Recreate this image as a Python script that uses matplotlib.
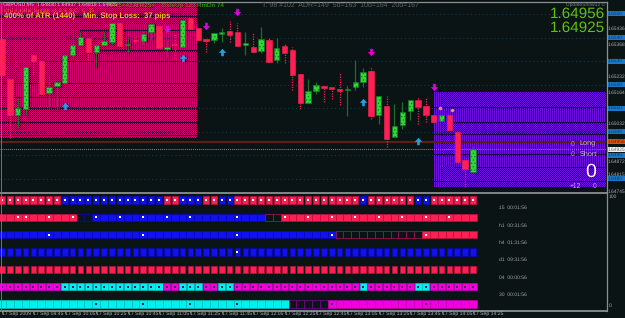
import numpy as np
import matplotlib
matplotlib.use('Agg')
import matplotlib.pyplot as plt
from matplotlib.path import Path

plt.rcParams['font.family'] = ['Liberation Sans', 'DejaVu Sans']
plt.rcParams['hatch.linewidth'] = 0.5
plt.rcParams['text.hinting'] = 'none'

W, H = 625, 318
BG = '#0a1414'

# GBPUSD M5, 17 Sep 2009, 09:25 - 14:25
opens = [1.65394, 1.65223, 1.65070, 1.65096, 1.65326, 1.65300, 1.65164, 1.65194, 1.65206, 1.65326,
         1.65368, 1.65398, 1.65338, 1.65368, 1.65381, 1.65462, 1.65368, 1.65389, 1.65385, 1.65423,
         1.65449, 1.65351, 1.65372, 1.65360, 1.65483, 1.65440, 1.65394, 1.65389, 1.65415, 1.65428,
         1.65423, 1.65368, 1.65360, 1.65343, 1.65389, 1.65304, 1.65364, 1.65347, 1.65245, 1.65121,
         1.65172, 1.65194, 1.65189, 1.65181, 1.65177, 1.65189, 1.65211, 1.65257, 1.65070, 1.65108,
         1.64977, 1.65028, 1.65087, 1.65134, 1.65108, 1.65070, 1.65045, 1.65070, 1.64998, 1.64879,
         1.64830]
closes = [1.65240, 1.65070, 1.65100, 1.65274, 1.65300, 1.65160, 1.65189, 1.65211, 1.65326, 1.65368,
          1.65402, 1.65338, 1.65368, 1.65385, 1.65462, 1.65364, 1.65372, 1.65385, 1.65415, 1.65457,
          1.65355, 1.65360, 1.65368, 1.65474, 1.65436, 1.65389, 1.65385, 1.65419, 1.65423, 1.65411,
          1.65364, 1.65377, 1.65338, 1.65394, 1.65296, 1.65355, 1.65334, 1.65240, 1.65121, 1.65172,
          1.65198, 1.65185, 1.65181, 1.65172, 1.65181, 1.65211, 1.65253, 1.65066, 1.65151, 1.64968,
          1.65023, 1.65083, 1.65134, 1.65104, 1.65070, 1.65040, 1.65070, 1.65006, 1.64870, 1.64840,
          1.64925]
highs = [1.65394, 1.65223, 1.65143, 1.65274, 1.65326, 1.65300, 1.65236, 1.65211, 1.65326, 1.65432,
         1.65423, 1.65398, 1.65368, 1.65423, 1.65462, 1.65462, 1.65402, 1.65411, 1.65428, 1.65457,
         1.65449, 1.65389, 1.65419, 1.65474, 1.65483, 1.65440, 1.65394, 1.65419, 1.65440, 1.65470,
         1.65462, 1.65423, 1.65423, 1.65445, 1.65398, 1.65398, 1.65377, 1.65360, 1.65245, 1.65223,
         1.65211, 1.65194, 1.65189, 1.65249, 1.65194, 1.65304, 1.65270, 1.65274, 1.65151, 1.65151,
         1.65117, 1.65126, 1.65134, 1.65147, 1.65147, 1.65070, 1.65070, 1.65070, 1.64998, 1.64879,
         1.64937]
lows = [1.65240, 1.64972, 1.65015, 1.65070, 1.65240, 1.65160, 1.65100, 1.65091, 1.65206, 1.65304,
        1.65368, 1.65304, 1.65274, 1.65368, 1.65368, 1.65364, 1.65338, 1.65377, 1.65368, 1.65389,
        1.65355, 1.65313, 1.65313, 1.65360, 1.65436, 1.65389, 1.65338, 1.65377, 1.65381, 1.65381,
        1.65364, 1.65326, 1.65338, 1.65334, 1.65296, 1.65291, 1.65291, 1.65177, 1.65096, 1.65121,
        1.65160, 1.65126, 1.65138, 1.65113, 1.65066, 1.65177, 1.65189, 1.65053, 1.65032, 1.64934,
        1.64977, 1.65011, 1.65049, 1.65032, 1.65040, 1.65040, 1.65045, 1.65006, 1.64870, 1.64764,
        1.64818]

sell_idx = [21, 26, 30, 47, 55]
sell_price = [1.65436, 1.65449, 1.65509, 1.65338, 1.65189]
buy_idx = [8, 23, 28, 46, 53]
buy_price = [1.65108, 1.65313, 1.65338, 1.65126, 1.64960]

ask, bid = 1.64956, 1.64925
grid_prices = [1.6490 + 0.001 * k for k in range(-1, 7)]
extra_prices = [1.65436, 1.65368, 1.65232, 1.65164, 1.65032, 1.64872, 1.64815, 1.64745]

# signal rows: r red, b blue, m magenta, c cyan, o empty red box, k empty dark box
row_states = [
    'r' * 8 + 'b' * 13 + 'r' * 2 + 'b' * 3 + 'r' * 2 + 'b' * 2 + 'r' * 16 + 'b' + 'r' * 6 + 'b' * 2 + 'r' * 6,
    'r' * 10 + 'k' * 2 + 'b' * 22 + 'o' * 2 + 'r' * 25,
    'b' * 43 + 'o' * 11 + 'r' * 7,
    'b' * 61,
    'r' * 61,
    'm' * 8 + 'c' * 13 + 'm' * 2 + 'c' * 3 + 'm' * 2 + 'c' * 2 + 'm' * 16 + 'c' + 'm' * 6 + 'c' * 2 + 'm' * 6,
    'c' * 37 + 'q' * 5 + 'm' * 19,
]
row_labels = ['15  00:01:56', 'h1  00:31:56', 'h4  01:31:56', 'd1  09:31:56', '04  00:00:56', '30  00:01:56']
row_dots = [
    list(range(61)),
    [2, 3, 6, 9, 12, 15, 18, 21, 24, 30, 36, 39, 42, 45, 48, 51, 54, 57],
    [6, 18, 30, 42, 54],
    [30],
    [],
    list(range(61)),
    [12, 18, 24, 30, 42, 54],
]
tick_idx = list(range(0, 61, 4))
tick_labels = ['17 Sep 2009', '17 Sep 09:45', '17 Sep 10:05', '17 Sep 10:25', '17 Sep 10:45',
               '17 Sep 11:05', '17 Sep 11:25', '17 Sep 11:45', '17 Sep 12:05', '17 Sep 12:25',
               '17 Sep 12:45', '17 Sep 13:05', '17 Sep 13:25', '17 Sep 13:45', '17 Sep 14:05',
               '17 Sep 14:25']

opens, closes, highs, lows = map(np.array, (opens, closes, highs, lows))
idx = np.arange(len(opens))
YLIM = (1.64743, 1.65551)
TOP, BOTTOM, RIGHT = 2, 192, 606
XLIM = (-2 / 7.85, (RIGHT - 2) / 7.85)


def px_axes(fig, x0, y0, x1, y1):
    return fig.add_axes([x0 / W, 1 - y1 / H, (x1 - x0) / W, (y1 - y0) / H])


def dither(w, h, c1, c2, stripes, rules):
    # checker pattern, with vertical stripes inside some boxes and dark rows
    yy, xx = np.mgrid[0:h, 0:w]
    mask = (xx + yy) % 2 == 0
    for x0, y0, x1, y1 in stripes:
        box = (xx >= x0) & (xx < x1) & (yy >= y0) & (yy < y1)
        mask[box] = xx[box] % 2 == 0
    for y, x0 in rules:
        mask[y, x0:] = False
    img = np.zeros((h, w, 3))
    img[mask] = matplotlib.colors.to_rgb(c1)
    img[~mask] = matplotlib.colors.to_rgb(c2)
    return img


fig = plt.figure(figsize=(W / 100, H / 100), dpi=100, facecolor=BG)

# zones behind the candles, placed pixel for pixel so the dither stays crisp
pink = dither(197, 136, '#d2006c', '#2e0a2c',
              [(65, 60, 197, 81), (88, 53, 197, 60), (120, 50, 197, 53), (125, 22, 197, 48),
               (15, 80, 40, 95), (0, 0, 40, 12), (20, 96, 197, 104)],
              [(59, 40), (81, 0), (95, 0), (106, 0), (120, 0), (133, 0), (28, 80), (14, 0), (48, 100)])
fig.figimage(pink, xo=0, yo=H - 138, origin='upper', zorder=-2)
purple = dither(172, 95, '#6c10e0', '#1e0a48',
                [(0, 0, 8, 95), (8, 15, 172, 30), (20, 42, 172, 62), (0, 62, 172, 75)],
                [(15, 0), (30, 20), (42, 0), (62, 0), (75, 20), (89, 0)])
fig.figimage(purple, xo=434, yo=H - 187, origin='upper', zorder=-2)

ax = px_axes(fig, 0, TOP, RIGHT, BOTTOM)
ax.axis('off')
ax.set_xlim(XLIM)
ax.set_ylim(YLIM)

ax.hlines(grid_prices, XLIM[0], XLIM[1], color='#14405c', lw=0.7, linestyles=(0, (1, 3)), zorder=2)
ax.axhline(ask, color='#5a2018', lw=1.6, zorder=2)
ax.axhline(bid, color='#8a8a8a', lw=0.7, linestyle=(0, (1, 1)), zorder=2)

# candles
up = closes >= opens
ax.vlines(idx[up], lows[up], highs[up], color='#1f6e28', lw=0.9, zorder=3)
ax.vlines(idx[~up], lows[~up], highs[~up], color='#ff1a50', lw=0.9, linestyles=(0, (1, 1)), zorder=3)
ax.bar(idx[up], (closes - opens)[up], bottom=opens[up], width=0.68, color='#2fd832',
       edgecolor='#0e7a2a', hatch='.....', lw=0.4, zorder=4)
ax.bar(idx[~up], (opens - closes)[~up], bottom=closes[~up], width=0.68, color='#ff1f52',
       edgecolor='#ff1f52', lw=0.4, zorder=4)

# signal arrows
down_arrow = Path([(-0.35, 1), (0.35, 1), (0.35, 0.1), (1, 0.1), (0, -1), (-1, 0.1), (-0.35, 0.1), (-0.35, 1)], closed=True)
up_arrow = Path([(-0.35, -1), (0.35, -1), (0.35, -0.1), (1, -0.1), (0, 1), (-1, -0.1), (-0.35, -0.1), (-0.35, -1)], closed=True)
ax.scatter(sell_idx, sell_price, marker=down_arrow, s=28, color='#e000e0', lw=0, zorder=5)
ax.scatter(buy_idx, buy_price, marker=up_arrow, s=28, color='#20a0e8', lw=0, zorder=5)
ax.scatter([55.8], [1.65100], s=7, color='#f08080', lw=0, zorder=5)
ax.scatter([57.3], [1.65091], s=6, color='#e0a040', lw=0, zorder=5)

# signal panel
sub = px_axes(fig, 0, 193, RIGHT, 310)
sub.set_xlim(XLIM)
sub.set_ylim(6.346, -0.404)
sub.axis('off')
cell_color = {'r': '#ff1f52', 'b': '#1010f0', 'm': '#f000e0', 'c': '#00f0f0', 'o': BG, 'k': BG, 'q': BG}
cell_edge = {'r': '#c01040', 'b': '#0808b0', 'm': '#c000b0', 'c': '#00c0c0', 'o': '#b01060', 'k': '#0808b0', 'q': '#8000a0'}
cell_w = {0: 0.8, 1: 1.0, 2: 1.0, 3: 0.72, 4: 0.72, 5: 0.9, 6: 1.0}
for r, states in enumerate(row_states):
    for i, s in enumerate(states):
        sub.bar(i, 0.42, bottom=r - 0.21, width=cell_w[r], color=cell_color[s],
                edgecolor=cell_edge[s], lw=0.5, zorder=2)
    for i in row_dots[r]:
        if states[i] in 'rb':
            dot = '#ffffff'
        else:
            dot = '#402060'
        sub.scatter(i, r, s=1.0, color=dot, marker='s', lw=0, zorder=3)
for r, lab in enumerate(row_labels):
    sub.text(63.3, r + 0.47, lab, color='#a0a4a4', fontsize=3.6, va='center', ha='left')

# frame lines
for y in (1.5, 192.5, 310.5):
    fig.add_artist(plt.Line2D([0, 606.5 / W], [1 - y / H] * 2, color='#8a8e8e', lw=1.3 if y > 3 else 0.9))
fig.add_artist(plt.Line2D([606.5 / W] * 2, [1 - 1.5 / H, 1 - 310.5 / H], color='#8a8e8e', lw=0.9))
fig.add_artist(plt.Line2D([0.7 / W] * 2, [1 - 1.5 / H, 1 - 310.5 / H], color='#707474', lw=0.7))


def ftext(x, y, s, **kw):
    kw.setdefault('va', 'center')
    kw.setdefault('fontsize', 3.9)
    return fig.text(x / W, 1 - y / H, s, **kw)


# price scale on the right
def price_y(p):
    return TOP + (YLIM[1] - p) / (YLIM[1] - YLIM[0]) * (BOTTOM - TOP)


for p in extra_prices:
    ftext(608, price_y(p), '%.5f' % p, color='#a8acac', fontsize=3.5)
for p in grid_prices:
    y = price_y(p)
    if y < 185:
        fig.patches.append(plt.Rectangle((607 / W, 1 - (y + 2.5) / H), 18 / W, 5 / H, transform=fig.transFigure,
                                         color='#1b78c8', lw=0))
        ftext(608, y, '%.4f' % p, color='#0c3c66', fontsize=3.5)
for p, c, tc in ((ask, '#e8500a', '#6a2000'), (bid, '#f0f0f0', '#707070')):
    y = price_y(p)
    fig.patches.append(plt.Rectangle((607 / W, 1 - (y + 2.5) / H), 18 / W, 5 / H, transform=fig.transFigure, color=c, lw=0))
    ftext(608, y, '%.5f' % p, color=tc, fontsize=3.5)
ftext(609, 197, '100', color='#a8acac', fontsize=3.6)
ftext(609, 306, '0', color='#a8acac', fontsize=3.6)

# time axis
for i, lab in zip(tick_idx, tick_labels):
    x = 2 + 7.85 * i
    ftext(x, 314, lab, color='#b0b4b4', fontsize=3.7)
    fig.add_artist(plt.Line2D([x / W] * 2, [1 - 311 / H, 1 - 313 / H], color='#a0a4a4', lw=0.5))

# chart header and indicator text
ftext(3, 5, 'GBPUSD,M5  1.64830 1.64937 1.64818 1.64925', color='#d8d8d8', fontsize=3.8)
ftext(4, 10.5, 'sm2 KaoBar Signals v1.0, E,S,C,  C: 35', color='#f08040', fontsize=3.7)
ftext(4, 16, '400% of ATR (1440)', color='#f0c020', fontsize=5.6, fontweight='bold')
ftext(83, 16, 'Min. Stop Loss:  37 pips', color='#f0c020', fontsize=5.5, fontweight='bold')
ftext(107, 5, 'ATR5=42', color='#70a010', fontsize=4.6)
ftext(133, 5, 'ATR25=', color='#70a010', fontsize=4.6)
ftext(162, 5, 'BIdeUp 123', color='#609010', fontsize=4.6)
ftext(197, 5, 'RmDn 74', color='#30c010', fontsize=4.6)
ftext(262, 5.5, 'T: 98 #102  ADR=149  5d=163  10d=164  20d=167', color='#5c6466', fontsize=5.0)
ftext(566, 5, 'UpdateShow12 \u00a9', color='#808484', fontsize=3.6)
ftext(605, 14, '%.5f' % ask, color='#60c010', fontsize=11, ha='right')
ftext(605, 28, '%.5f' % bid, color='#60c010', fontsize=11, ha='right')

# trade panel
ftext(571, 144, '0', color='#d0a070', fontsize=4.8)
ftext(579, 144, 'Long', color='#c0c0d0', fontsize=5.2)
ftext(571, 154, '0', color='#d0a070', fontsize=4.8)
ftext(580, 154, 'Short', color='#c0c0d0', fontsize=5.2)
ftext(591, 172, '0', color='#ffffff', fontsize=14, ha='center')
ftext(570, 186, '+12', color='#c8c8d8', fontsize=4.8)
ftext(593, 186, '0', color='#c8c8d8', fontsize=4.8)

fig.savefig('out.png', dpi=100, facecolor=BG)
